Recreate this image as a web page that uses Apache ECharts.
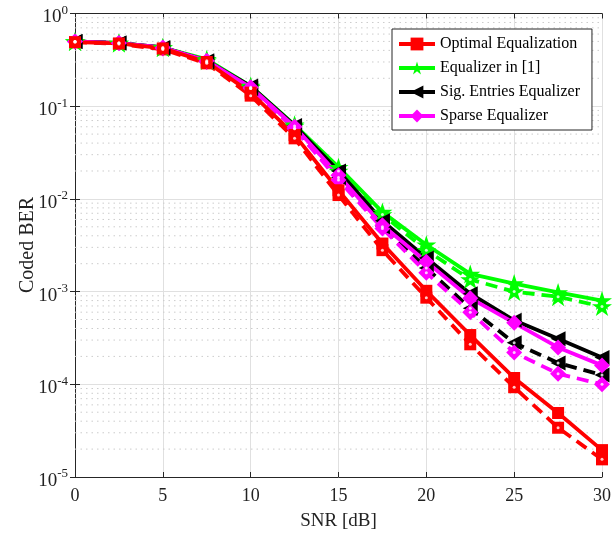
<!DOCTYPE html>
<html>
<head>
<meta charset="utf-8">
<script src="https://cdn.jsdelivr.net/npm/echarts@6/dist/echarts.min.js"></script>
<style>
  html, body { margin: 0; padding: 0; background: #fff; }
  #chart { width: 614px; height: 543px; }
</style>
</head>
<body>
<div id="chart"></div>
<script>
// SNR points (dB)
const snr = [0, 2.5, 5, 7.5, 10, 12.5, 15, 17.5, 20, 22.5, 25, 27.5, 30]

// solid curves
const optimal = [0.49, 0.475, 0.42, 0.30, 0.14, 0.049, 0.0124, 0.0033, 0.00102, 0.00034, 0.000117, 0.000049, 0.0000195]
const eqRef = [0.50, 0.48, 0.43, 0.32, 0.165, 0.063, 0.022, 0.0072, 0.0032, 0.00155, 0.00122, 0.00098, 0.0008]
const sigEntries = [0.50, 0.48, 0.43, 0.31, 0.165, 0.062, 0.020, 0.0058, 0.0023, 0.00095, 0.00049, 0.00031, 0.000195]
const sparse = [0.50, 0.48, 0.43, 0.31, 0.16, 0.060, 0.018, 0.0052, 0.0021, 0.00085, 0.00046, 0.00025, 0.00016]

// dashed curves
const optimalD = [0.49, 0.47, 0.41, 0.29, 0.13, 0.045, 0.011, 0.0028, 0.00086, 0.00027, 0.000093, 0.000034, 0.0000155]
const eqRefD = [0.50, 0.48, 0.43, 0.31, 0.16, 0.061, 0.020, 0.0068, 0.0028, 0.00135, 0.001, 0.00088, 0.00069]
const sigEntriesD = [0.50, 0.48, 0.42, 0.30, 0.155, 0.058, 0.017, 0.0050, 0.0018, 0.00066, 0.00028, 0.00017, 0.000126]
const sparseD = [0.50, 0.48, 0.42, 0.30, 0.155, 0.057, 0.016, 0.0048, 0.0016, 0.0006, 0.00022, 0.00013, 0.0001]

// y minor grid values (2..9 x 10^k)
const minorY = []
for (let k = -5; k < 0; k++) {
  for (let m = 2; m <= 9; m++) minorY.push(+(m * Math.pow(10, k)).toPrecision(2))
}

const names = ['Optimal Equalization', 'Equalizer in [1]', 'Sig. Entries Equalizer', 'Sparse Equalizer']
const starPath = 'path://M50,0L61.2,34.5L97.6,34.5L68.2,55.9L79.4,90.5L50,69.1L20.6,90.5L31.8,55.9L2.4,34.5L38.8,34.5Z'
const serif = "'Liberation Serif', 'DejaVu Serif', serif"

const pairs = (ys) => snr.map((x, i) => [x, ys[i]])

function curve(name, ys, color, symbol, size, dashed, rotate) {
  return {
    name: name,
    type: 'line',
    data: pairs(ys),
    symbol: symbol,
    symbolSize: size,
    symbolRotate: rotate || 0,
    symbolKeepAspect: true,
    showAllSymbol: true,
    lineStyle: { color: color, width: 3.8, type: dashed ? [12, 7] : 'solid' },
    itemStyle: { color: color, borderWidth: 0 },
    emphasis: { disabled: true },
    animation: false,
    z: 3
  }
}

function dots(ys) {
  return {
    name: 'dot',
    type: 'scatter',
    data: pairs(ys),
    symbol: 'circle',
    symbolSize: 3,
    itemStyle: { color: '#fff' },
    silent: true,
    animation: false,
    z: 4
  }
}

// dotted minor grid lines, one broken polyline across the plot
const minorGrid = []
minorY.forEach((v) => { minorGrid.push([0, v], [30, v], [30, '-']) })

const supLabel = (v) => '{b|10}{s|' + Math.round(Math.log10(v)) + '}'

const chart = echarts.init(document.getElementById('chart'))
chart.setOption({
  backgroundColor: '#fff',
  animation: false,
  grid: { left: 75, right: 10, top: 13, bottom: 66 },
  graphic: [
    {
      type: 'text',
      x: 28,
      y: 245,
      rotation: Math.PI / 2,
      style: {
        text: 'Coded BER',
        fontFamily: serif,
        fontSize: 20,
        fill: '#222',
        align: 'center',
        verticalAlign: 'middle'
      }
    }
  ],
  legend: {
    data: names,
    orient: 'vertical',
    left: 392,
    top: 29,
    backgroundColor: '#fff',
    borderColor: '#262626',
    borderWidth: 1,
    borderRadius: 0,
    padding: [7, 12, 6, 5],
    itemGap: 8,
    itemWidth: 36,
    itemHeight: 16,
    lineStyle: { width: 4 },
    textStyle: { fontFamily: serif, fontSize: 16, color: '#000' }
  },
  xAxis: [
    {
      type: 'value', min: 0, max: 30, interval: 5,
      name: 'SNR [dB]', nameLocation: 'middle', nameGap: 35,
      nameTextStyle: { fontFamily: serif, fontSize: 19, color: '#222' },
      axisLine: { lineStyle: { color: '#262626', width: 1 } },
      axisTick: { inside: true, length: 5, lineStyle: { color: '#262626' } },
      axisLabel: { fontFamily: serif, fontSize: 18, color: '#222', margin: 10 },
      splitLine: { show: true, lineStyle: { color: '#e0e0e0', width: 1 } }
    },
    {
      type: 'value', min: 0, max: 30, interval: 5, position: 'top',
      axisLine: { show: true, lineStyle: { color: '#262626', width: 1 } },
      axisTick: { show: true, inside: true, length: 5, lineStyle: { color: '#262626' } },
      axisLabel: { show: false },
      splitLine: { show: false }
    }
  ],
  yAxis: [
    {
      type: 'log', logBase: 10, min: 1e-5, max: 1,
      axisLine: { show: true, lineStyle: { color: '#262626', width: 1 } },
      axisTick: { show: true, inside: true, length: 5, lineStyle: { color: '#262626' } },
      axisLabel: {
        margin: 7,
        formatter: supLabel,
        rich: {
          b: { fontFamily: serif, fontSize: 19, color: '#222', lineHeight: 22, padding: [8, 0, 0, 0] },
          s: { fontFamily: serif, fontSize: 13, color: '#222', lineHeight: 22, padding: [0, 0, 6, 0] }
        }
      },
      splitLine: { show: true, lineStyle: { color: '#e0e0e0', width: 1 } }
    },
    {
      type: 'log', logBase: 10, min: 1e-5, max: 1, position: 'right',
      axisLine: { show: true, lineStyle: { color: '#262626', width: 1 } },
      axisTick: { show: true, inside: true, length: 5, lineStyle: { color: '#262626' } },
      axisLabel: { show: false },
      splitLine: { show: false }
    }
  ],
  series: [
    {
      name: 'grid',
      type: 'line',
      data: minorGrid,
      symbol: 'none',
      connectNulls: false,
      silent: true,
      lineStyle: { color: '#cccccc', width: 1, type: [1.5, 4] },
      animation: false,
      z: 1
    },
    curve(names[1] + ' dashed', eqRefD, '#00ff00', starPath, 20, true),
    curve(names[2] + ' dashed', sigEntriesD, '#000000', 'triangle', 15, true, 90),
    curve(names[3] + ' dashed', sparseD, '#ff00ff', 'diamond', 16, true),
    curve(names[0] + ' dashed', optimalD, '#ff0000', 'rect', 12, true),
    dots(eqRefD), dots(sigEntriesD), dots(sparseD), dots(optimalD),
    curve(names[1], eqRef, '#00ff00', starPath, 20, false),
    curve(names[2], sigEntries, '#000000', 'triangle', 15, false, 90),
    curve(names[3], sparse, '#ff00ff', 'diamond', 16, false),
    curve(names[0], optimal, '#ff0000', 'rect', 12, false)
  ]
})
</script>
</body>
</html>
